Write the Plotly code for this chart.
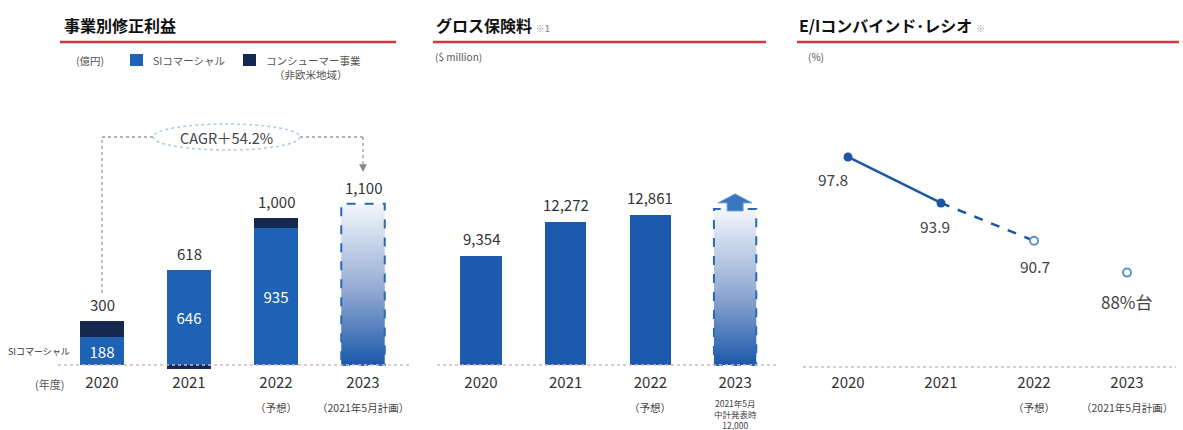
import plotly.graph_objects as go

# ---------------- data ----------------
years = ["2020", "2021", "2022", "2023"]

# 事業別修正利益 (億円)
profit_si = [188, 646, 935]              # SIコマーシャル
profit_consumer = [112, -28, 65]         # コンシューマー事業（非欧米地域）
profit_total = [300, 618, 1000, 1100]
profit_total_labels = ["300", "618", "1,000", "1,100"]
profit_sub = ["", "", "（予想）", "（2021年5月計画）"]
cagr_label = "CAGR＋54.2%"

# グロス保険料 ($ million)
gross_premium = [9354, 12272, 12861]
gross_2023_drawn = 13400                 # 2023 plan bar (drawn height, ≥12,000)
gross_sub = ["", "", "（予想）", "2021年5月<br>中計発表時<br>12,000"]

# E/Iコンバインド・レシオ (%)
ei_ratio = [97.8, 93.9, 90.7, 88.0]
ei_labels = ["97.8", "93.9", "90.7", "88%台"]
ei_sub = ["", "", "（予想）", "（2021年5月計画）"]

# ---------------- layout helpers ----------------
W, H = 1183, 430
FONT = "Noto Sans CJK JP"


def fx(p):
    return p / W


def fy(p):
    return 1 - p / H


def xr(c0, step, left, right):
    return [(left - c0) / step, (right - c0) / step]


def yr(base_px, k, bottom_px, top_px, base_val=0.0):
    return [base_val - (bottom_px - base_px) / k, base_val + (base_px - top_px) / k]


Y_BOTTOM, Y_TOP = 372, 110
P1 = dict(c0=102, step=87, left=58, right=412, base=365, k=0.1467, bv=0)
P2 = dict(c0=481, step=84.7, left=437, right=776, base=365, k=0.01165, bv=0)
P3 = dict(c0=848, step=93, left=803, right=1176, base=367, k=11.8, bv=80)

SI_BLUE = "#1d62b4"
NAVY = "#16284f"
GROSS_BLUE = "#1b5aad"
LINE_BLUE = "#1e56a6"
OPEN_BLUE = "#5b93d0"
TXT = "#333333"
RED = "#d8343c"
GRAD = [[0, "#1a58aa"], [0.45, "#8fa8d1"], [1, "#f3f7fc"]]

xi = list(range(len(years)))

fig = go.Figure()

# ---------- Panel 1 ----------
fig.add_trace(go.Bar(
    x=xi[:3], y=profit_si, marker_color=SI_BLUE, width=0.5,
    text=[f"{v:,}" for v in profit_si], textposition="inside",
    insidetextanchor="middle", textangle=0,
    textfont=dict(color="white", size=15, family=FONT),
    xaxis="x", yaxis="y", hoverinfo="skip"))
fig.add_trace(go.Bar(
    x=xi[:3], y=profit_consumer, marker_color=NAVY, width=0.5,
    xaxis="x", yaxis="y", hoverinfo="skip"))
bw1 = 0.5
fig.add_trace(go.Scatter(
    x=[3 - bw1 / 2, 3 + bw1 / 2, 3 + bw1 / 2, 3 - bw1 / 2, 3 - bw1 / 2],
    y=[0, 0, profit_total[3], profit_total[3], 0],
    mode="lines", fill="toself",
    fillgradient=dict(type="vertical", colorscale=GRAD),
    line=dict(color="#2a68ba", width=2, dash="dash"),
    xaxis="x", yaxis="y", hoverinfo="skip"))

# ---------- Panel 2 ----------
fig.add_trace(go.Bar(
    x=xi[:3], y=gross_premium, marker_color=GROSS_BLUE, width=0.49,
    xaxis="x2", yaxis="y2", hoverinfo="skip"))
bw2 = 0.5
fig.add_trace(go.Scatter(
    x=[3 - bw2 / 2, 3 + bw2 / 2, 3 + bw2 / 2, 3 - bw2 / 2, 3 - bw2 / 2],
    y=[0, 0, gross_2023_drawn, gross_2023_drawn, 0],
    mode="lines", fill="toself",
    fillgradient=dict(type="vertical", colorscale=GRAD),
    line=dict(color="#2a68ba", width=2, dash="dash"),
    xaxis="x2", yaxis="y2", hoverinfo="skip"))

# ---------- Panel 3 ----------
fig.add_trace(go.Scatter(
    x=xi[1:3], y=ei_ratio[1:3], mode="lines",
    line=dict(color=LINE_BLUE, width=2.5, dash="dash"),
    xaxis="x3", yaxis="y3", hoverinfo="skip"))
fig.add_trace(go.Scatter(
    x=xi[:2], y=ei_ratio[:2], mode="lines+markers",
    line=dict(color=LINE_BLUE, width=2.5),
    marker=dict(size=9, color=LINE_BLUE),
    xaxis="x3", yaxis="y3", hoverinfo="skip"))
fig.add_trace(go.Scatter(
    x=xi[2:], y=ei_ratio[2:], mode="markers",
    marker=dict(size=8, color="white", line=dict(color=OPEN_BLUE, width=2)),
    xaxis="x3", yaxis="y3", hoverinfo="skip"))


# ---------- axes ----------
def xaxis(p, anchor):
    return dict(domain=[fx(p["left"]), fx(p["right"])],
                range=xr(p["c0"], p["step"], p["left"], p["right"]),
                tickvals=xi, ticktext=years, ticks="", showgrid=False,
                zeroline=False, showline=False, automargin=False, anchor=anchor,
                tickfont=dict(size=15, color=TXT, family=FONT), fixedrange=True)


def yaxis(p, anchor):
    return dict(domain=[fy(Y_BOTTOM), fy(Y_TOP)],
                range=yr(p["base"], p["k"], Y_BOTTOM, Y_TOP, p["bv"]),
                visible=False, automargin=False, fixedrange=True, anchor=anchor)


ann = []
shapes = []


def note(px_, py_, text, size, color="#555", xanchor="center", bold=False):
    ann.append(dict(x=fx(px_), y=fy(py_), xref="paper", yref="paper",
                    text=("<b>" + text + "</b>") if bold else text,
                    showarrow=False, xanchor=xanchor, yanchor="middle",
                    font=dict(size=size, color=color, family=FONT)))


# titles + red rules
titles = [
    (62, 60, 396, "事業別修正利益"),
    (434, 433, 766, "グロス保険料 <span style='font-size:9px;color:#9a9a9a'>※1</span>"),
    (797, 797, 1179, "E/Iコンバインド･レシオ <span style='font-size:9px;color:#9a9a9a'>※</span>"),
]
for tx, l0, l1, t in titles:
    note(tx, 25, t, 16, "#111", xanchor="left", bold=True)
    shapes.append(dict(type="line", xref="paper", yref="paper",
                       x0=fx(l0), x1=fx(l1), y0=fy(42), y1=fy(42),
                       line=dict(color=RED, width=2.5)))

# panel 1 legend
note(90, 60, "(億円)", 10.5)
shapes.append(dict(type="rect", xref="paper", yref="paper", x0=fx(130), x1=fx(143),
                   y0=fy(66), y1=fy(54), fillcolor=SI_BLUE, line=dict(width=0)))
note(151, 60, "SIコマーシャル", 10.5, xanchor="left")
shapes.append(dict(type="rect", xref="paper", yref="paper", x0=fx(243), x1=fx(256),
                   y0=fy(66), y1=fy(54), fillcolor=NAVY, line=dict(width=0)))
note(264, 60, "コンシューマー事業", 10.5, xanchor="left")
note(311, 74, "（非欧米地域）", 10.5)
note(433, 57, "($ million)", 10, xanchor="left")
note(806, 57, "(%)", 10, xanchor="left")

# (年度) and SIコマーシャル side label
note(49, 384, "(年度)", 11)
ann.append(dict(x=-0.34, y=profit_si[0] / 2, xref="x", yref="y", text="SIコマーシャル",
                showarrow=False, xanchor="right", yanchor="middle",
                font=dict(size=9, color=TXT, family=FONT)))

# panel 1 totals
for i, lab in enumerate(profit_total_labels):
    top = profit_si[i] + max(profit_consumer[i], 0) if i < 3 else profit_total[i]
    ann.append(dict(x=i, y=top, xref="x", yref="y", text=lab, showarrow=False,
                    xanchor="center", yanchor="bottom", yshift=4,
                    font=dict(size=15, color=TXT, family=FONT)))
# panel 2 totals
for i, v in enumerate(gross_premium):
    ann.append(dict(x=i, y=v, xref="x2", yref="y2", text=f"{v:,}", showarrow=False,
                    xanchor="center", yanchor="bottom", yshift=5,
                    font=dict(size=15, color=TXT, family=FONT)))

# sub labels under ticks
for axn, subs in (("x", profit_sub), ("x3", ei_sub)):
    for i, s in enumerate(subs):
        if s:
            ann.append(dict(x=i, y=fy(407), xref=axn, yref="paper", text=s, showarrow=False,
                            xanchor="center", yanchor="middle",
                            font=dict(size=10.5, color="#444", family=FONT)))
for i, s in enumerate(gross_sub):
    if s:
        if "<br>" in s:
            ann.append(dict(x=i, y=fy(395), xref="x2", yref="paper", text=s, showarrow=False,
                            xanchor="center", yanchor="top",
                            font=dict(size=8.5, color="#444", family=FONT)))
        else:
            ann.append(dict(x=i, y=fy(407), xref="x2", yref="paper", text=s, showarrow=False,
                            xanchor="center", yanchor="middle",
                            font=dict(size=10.5, color="#444", family=FONT)))

# panel 3 point labels
ei_offsets = [(-15, -9), (-6, -10), (1, -12), (0, -14)]
for i, lab in enumerate(ei_labels):
    dx, dy = ei_offsets[i]
    ann.append(dict(x=i, y=ei_ratio[i], xref="x3", yref="y3", text=lab, showarrow=False,
                    xanchor="center", yanchor="top", xshift=dx, yshift=dy,
                    font=dict(size=17 if i == 3 else 15.5, color="#444", family=FONT)))

# baselines (dotted)
for xa, ya, bv in (("x", "y", 0), ("x2", "y2", 0), ("x3", "y3", 80)):
    shapes.append(dict(type="line", xref=xa + " domain", yref=ya, x0=0, x1=1, y0=bv, y1=bv,
                       line=dict(color="#d8b7c6", width=1.5, dash="dot")))

# CAGR connector
GREY = "#9a9a9a"
shapes.append(dict(type="line", xref="x", yref="paper", x0=0, x1=0, y0=fy(293), y1=fy(137),
                   line=dict(color=GREY, width=1.3, dash="dot")))
shapes.append(dict(type="line", xref="x", yref="paper", x0=0, x1=3, y0=fy(137), y1=fy(137),
                   line=dict(color=GREY, width=1.3, dash="dot")))
shapes.append(dict(type="line", xref="x", yref="paper", x0=3, x1=3, y0=fy(137), y1=fy(164),
                   line=dict(color=GREY, width=1.3, dash="dot")))
shapes.append(dict(type="circle", xref="paper", yref="paper", x0=fx(153), x1=fx(300),
                   y0=fy(150), y1=fy(124), fillcolor="white",
                   line=dict(color="#a9cbe8", width=1.5, dash="dot")))
note(226, 137, cagr_label, 14.5, "#444")
ann.append(dict(x=3, y=fy(172), xref="x", yref="paper", text="", showarrow=True,
                ax=0, ay=-9, arrowhead=2, arrowsize=1.2, arrowwidth=1.3, arrowcolor="#888",
                standoff=0))

# block arrow on panel 2 plan bar
k2, s2 = P2["k"], P2["step"]
t = gross_2023_drawn


def pt(dxp, dyp):
    return f"{3 + dxp / s2:.4f},{t + dyp / k2:.1f}"


path = ("M " + pt(-8, -2) + " L " + pt(-8, 6) + " L " + pt(-17, 6) + " L " + pt(0, 15)
        + " L " + pt(17, 6) + " L " + pt(8, 6) + " L " + pt(8, -2) + " Z")
shapes.append(dict(type="path", xref="x2", yref="y2", path=path,
                   fillcolor="#3a75c1", line=dict(color="#6d9bd6", width=1)))

fig.update_layout(
    template="none",
    width=W, height=H, margin=dict(l=0, r=0, t=0, b=0),
    paper_bgcolor="white", plot_bgcolor="white",
    showlegend=False, barmode="relative", bargap=0,
    font=dict(family=FONT, color=TXT),
    xaxis=xaxis(P1, "y"), yaxis=yaxis(P1, "x"),
    xaxis2=xaxis(P2, "y2"), yaxis2=yaxis(P2, "x2"),
    xaxis3=xaxis(P3, "y3"), yaxis3=yaxis(P3, "x3"),
    annotations=ann, shapes=shapes,
)

fig.write_html("out.html", config={"displayModeBar": False},
               post_script="document.body.style.margin='0';")
